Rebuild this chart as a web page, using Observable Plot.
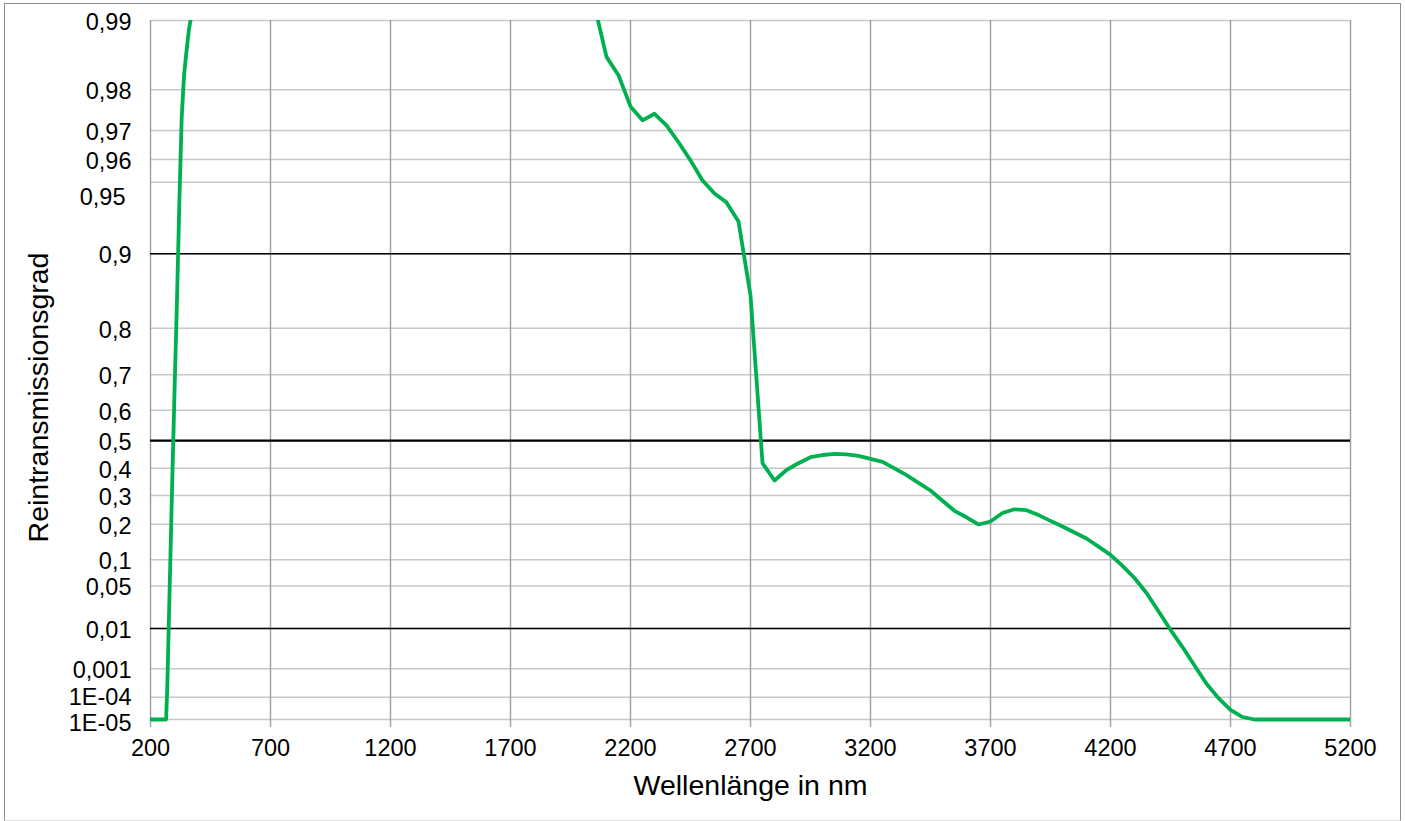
<!DOCTYPE html>
<html>
<head>
<meta charset="utf-8">
<script src="https://cdn.jsdelivr.net/npm/d3@7"></script>
<script src="https://cdn.jsdelivr.net/npm/@observablehq/plot@0.6"></script>
<style>
  body { margin: 0; background: #fff; }
  #chart { position: relative; width: 1405px; height: 821px; overflow: hidden; }
  #border { position: absolute; left: 4px; top: 3px; width: 1395px; height: 816px;
            border: 1px solid #8c8c8c; border-bottom-color: #e0e0e0; pointer-events: none; }
</style>
</head>
<body>
<div id="chart"><div id="border"></div></div>
<script>
// ---- data ----
const wavelength = [
  200, 265, 270, 280, 290, 300, 310, 320, 330, 340, 350, 360, 370, 400, 500, 700, 1000, 1500, 1800, 2000, 2050,
  2100, 2150, 2200, 2250, 2300, 2350, 2400, 2450, 2500, 2550, 2600, 2650, 2700, 2750, 2800, 2850, 2900, 2950,
  3000, 3050, 3100, 3150, 3200, 3250, 3300, 3350, 3400, 3450, 3500, 3550, 3600, 3650, 3700, 3750, 3800, 3850,
  3900, 3950, 4000, 4050, 4100, 4150, 4200, 4250, 4300, 4350, 4400, 4450, 4500, 4550, 4600, 4650, 4700, 4750,
  4800, 4850, 4900, 4950, 5000, 5050, 5100, 5150, 5200
];
const transmission = [
  0.00001, 0.00001, 0.00026, 0.049, 0.3305, 0.653, 0.840, 0.938, 0.9737, 0.9828, 0.9864, 0.989, 0.9905, 0.992, 0.994, 0.995, 0.995, 0.995, 0.994, 0.9925, 0.9914,
  0.9856, 0.9827, 0.9764, 0.9729, 0.9746, 0.9715, 0.9663, 0.9597, 0.9509, 0.9442, 0.9391, 0.9267, 0.8517, 0.4189, 0.3550, 0.3939, 0.4189, 0.4409,
  0.4488, 0.4532, 0.4514, 0.4459, 0.4350, 0.4237, 0.4001, 0.3750, 0.3465, 0.3180, 0.2806, 0.2452, 0.2230, 0.1992, 0.2090, 0.2376, 0.2505, 0.2473,
  0.2304, 0.2110, 0.1928, 0.1740, 0.1559, 0.1331, 0.1117, 0.0864, 0.0629, 0.0400, 0.0209, 0.00944, 0.00389, 0.00125, 0.000327, 0.0000933, 0.0000292, 0.0000133,
  0.00001, 0.00001, 0.00001, 0.00001, 0.00001, 0.00001, 0.00001, 0.00001, 0.00001
];
const xTicks = [200, 700, 1200, 1700, 2200, 2700, 3200, 3700, 4200, 4700, 5200];
const yTickValues = [0.99, 0.98, 0.97, 0.96, 0.95, 0.9, 0.8, 0.7, 0.6, 0.5, 0.4, 0.3, 0.2, 0.1, 0.05, 0.01, 0.001, 0.0001, 0.00001];
const yTickLabels = ["0,99", "0,98", "0,97", "0,96", "0,95", "0,9", "0,8", "0,7", "0,6", "0,5", "0,4", "0,3", "0,2", "0,1", "0,05", "0,01", "0,001", "1E-04", "1E-05"];
const blackLines = [0.9, 0.01];
const boldLines = [0.5];

// ---- build ----
const f = t => -Math.log(-Math.log(t)); // double-log probability axis
const data = wavelength.map((w, i) => ({w, t: transmission[i]}));
const yTicks = yTickValues.map((v, i) => ({v, label: yTickLabels[i]}));
const special = new Set([0.95, 0.0001, 0.00001]);

const plotH = 699;
const k = plotH / (f(0.99) - f(0.00001));
const yMin = f(0.00001) - 3 / k;

const font = "'Liberation Sans', Arial, sans-serif";
const tickText = {frameAnchor: "left", textAnchor: "end", lineAnchor: "middle", fontSize: 23.5, fill: "#000", text: "label", y: d => f(d.v)};

const chart = Plot.plot({
  width: 1405,
  height: 821,
  marginLeft: 150,
  marginRight: 55,
  marginTop: 20,
  marginBottom: 99,
  x: {domain: [200, 5200], axis: null},
  y: {domain: [yMin, f(0.99)], axis: null},
  style: {fontFamily: font, background: "transparent", overflow: "visible", color: "#000"},
  marks: [
    Plot.ruleY(yTickValues, {y: f, stroke: "#c8c8c8", strokeWidth: 1.5}),
    Plot.ruleX(xTicks, {x: d => d, stroke: "#a3a3a3", strokeWidth: 1.5, insetBottom: -5}),
    Plot.ruleY(blackLines, {y: f, stroke: "#000", strokeWidth: 1.6}),
    Plot.ruleY(boldLines, {y: f, stroke: "#000", strokeWidth: 2.4}),
    Plot.line(data, {x: "w", y: d => f(d.t), stroke: "#00b050", strokeWidth: 3.8,
      strokeLinejoin: "round", clip: true}),
    Plot.text(yTicks.filter(d => !special.has(d.v)), {...tickText, dx: -19, dy: 2}),
    Plot.text(yTicks.filter(d => d.v === 0.95), {...tickText, dx: -25, dy: 15}),
    Plot.text(yTicks.filter(d => d.v === 0.0001), {...tickText, dx: -19, dy: 0}),
    Plot.text(yTicks.filter(d => d.v === 0.00001), {...tickText, dx: -19, dy: 4}),
    Plot.text(xTicks, {x: d => d, text: d => String(d), frameAnchor: "bottom", lineAnchor: "middle",
      dy: 26, fontSize: 23.5, fill: "#000"}),
    Plot.text(["Wellenlänge in nm"], {frameAnchor: "bottom", lineAnchor: "middle", textAnchor: "middle",
      dy: 63, fontSize: 28.5, fill: "#000"}),
    Plot.text(["Reintransmissionsgrad"], {frameAnchor: "left", textAnchor: "middle", lineAnchor: "middle",
      dx: -112, dy: 26, rotate: -90, fontSize: 28.5, fill: "#000"})
  ]
});
document.getElementById("chart").prepend(chart);
</script>
</body>
</html>
